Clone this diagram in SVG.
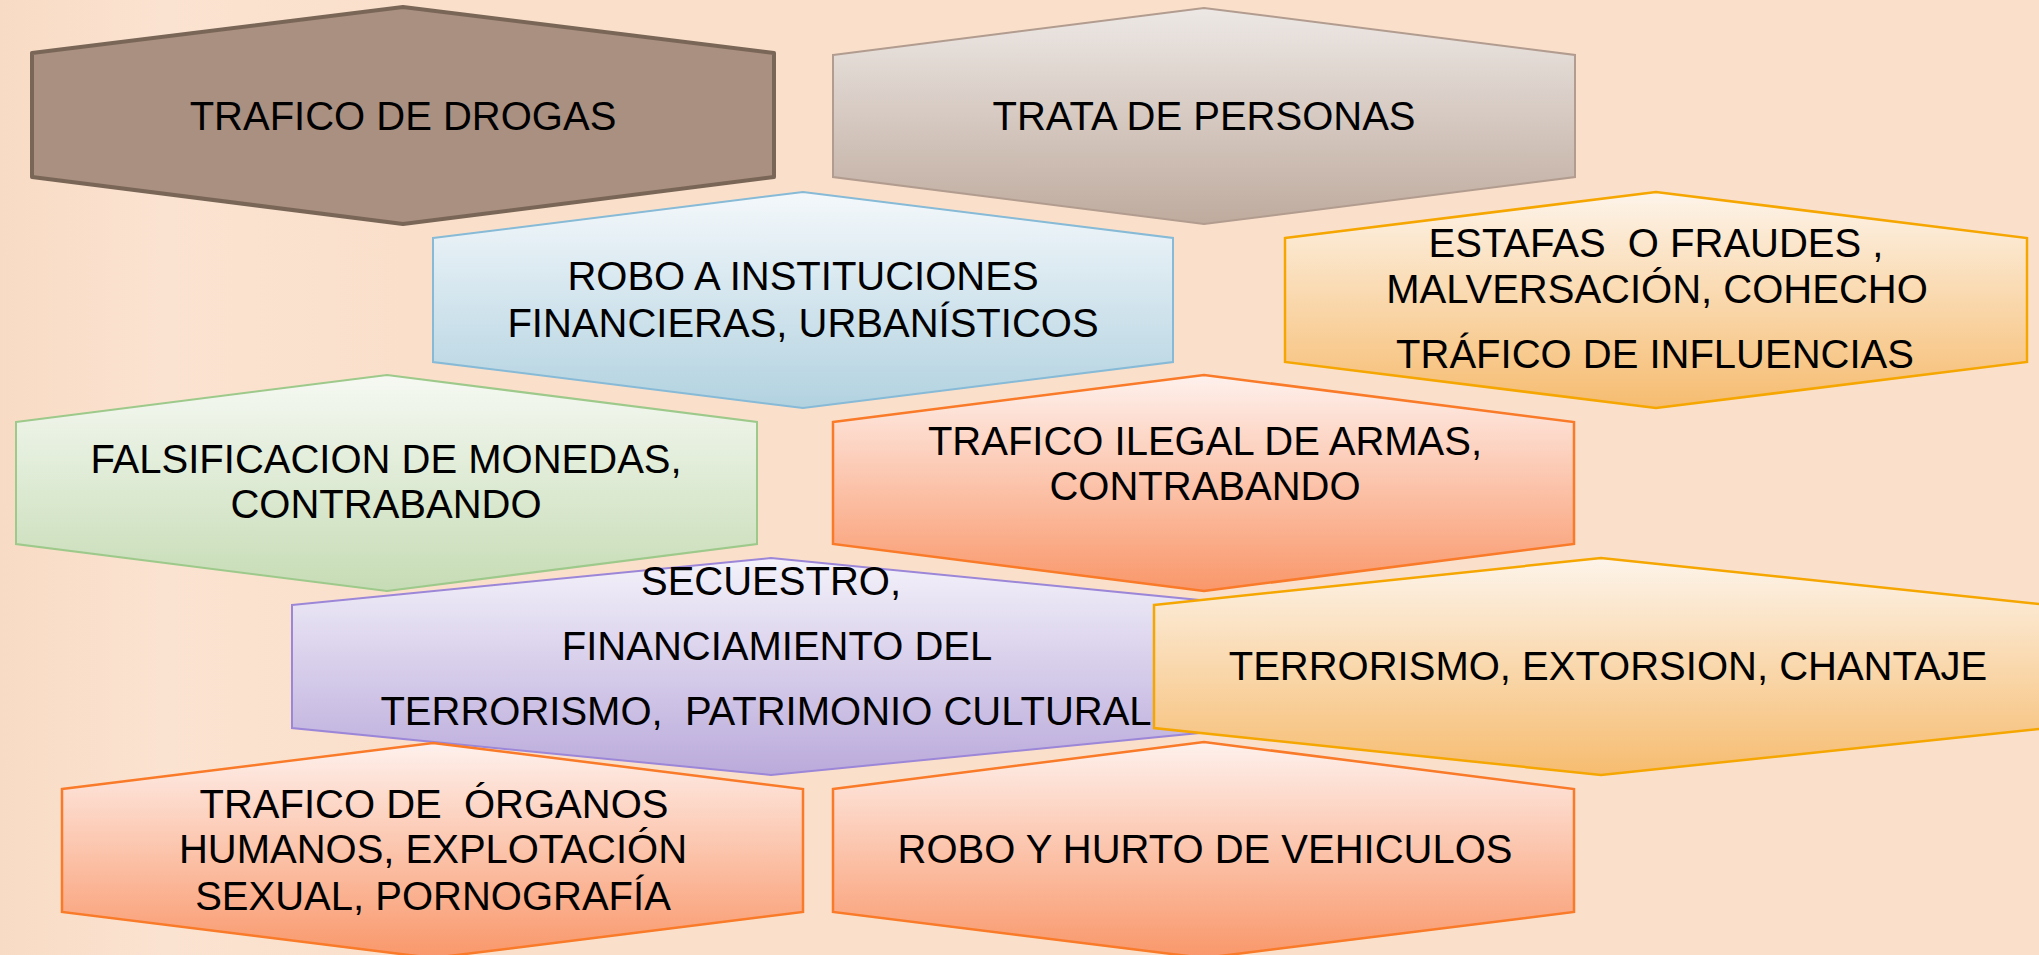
<svg xmlns="http://www.w3.org/2000/svg" width="2039" height="955" viewBox="0 0 2039 955">
  <defs>
    <linearGradient id="bg" x1="0" y1="0" x2="1" y2="0">
      <stop offset="0" stop-color="#F8DBC4"/>
      <stop offset="0.08" stop-color="#FBE3D1"/>
      <stop offset="0.2" stop-color="#FAE0CB"/>
      <stop offset="1" stop-color="#FAE0CB"/>
    </linearGradient>
    <linearGradient id="gGray" x1="0" y1="0" x2="0" y2="1">
      <stop offset="0" stop-color="#EDE8E5"/>
      <stop offset="1" stop-color="#BFAB9E"/>
    </linearGradient>
    <linearGradient id="gBlue" x1="0" y1="0" x2="0" y2="1">
      <stop offset="0" stop-color="#F4F8FB"/>
      <stop offset="1" stop-color="#B2D2E0"/>
    </linearGradient>
    <linearGradient id="gGold" x1="0" y1="0" x2="0" y2="1">
      <stop offset="0" stop-color="#FDF4EA"/>
      <stop offset="1" stop-color="#F6BC70"/>
    </linearGradient>
    <linearGradient id="gGreen" x1="0" y1="0" x2="0" y2="1">
      <stop offset="0" stop-color="#F6F9F3"/>
      <stop offset="1" stop-color="#C6DCB5"/>
    </linearGradient>
    <linearGradient id="gCoral" x1="0" y1="0" x2="0" y2="1">
      <stop offset="0" stop-color="#FEF1ED"/>
      <stop offset="1" stop-color="#F9976A"/>
    </linearGradient>
    <linearGradient id="gPurple" x1="0" y1="0" x2="0" y2="1">
      <stop offset="0" stop-color="#F4F2FA"/>
      <stop offset="1" stop-color="#BAAADB"/>
    </linearGradient>
  </defs>
  <style>
    .t { font-family: "Liberation Sans", Arial, sans-serif; font-size: 40px; fill: #000; text-anchor: middle; }
    .brown { fill: #AA9080; stroke: #7A6657; stroke-width: 4; stroke-linejoin: round; }
    .gray { fill: url(#gGray); stroke: #B29C8F; stroke-width: 2; }
    .blue { fill: url(#gBlue); stroke: #86BAD6; stroke-width: 2; }
    .gold { fill: url(#gGold); stroke: #F5A600; stroke-width: 2.5; }
    .green { fill: url(#gGreen); stroke: #9DC98A; stroke-width: 2; }
    .coral { fill: url(#gCoral); stroke: #F97A28; stroke-width: 2.5; }
    .purple { fill: url(#gPurple); stroke: #9C86D8; stroke-width: 2; }
  </style>
  <rect x="0" y="0" width="2039" height="955" fill="url(#bg)"/>

  <g id="node-trafico-drogas">
    <path class="brown" d="M32,53 L403,7 L774,53 L774,177 L403,224 L32,177 Z"/>
    <text class="t" x="403" y="130">TRAFICO DE DROGAS</text>
  </g>

  <g id="node-trata-personas">
    <path class="gray" d="M833,55 L1204,8 L1575,55 L1575,177 L1204,224 L833,177 Z"/>
    <text class="t" x="1204" y="130">TRATA DE PERSONAS</text>
  </g>

  <g id="node-robo-instituciones">
    <path class="blue" d="M433,238 L803,192 L1173,238 L1173,362 L803,408 L433,362 Z"/>
    <text class="t" x="803" y="290">ROBO A INSTITUCIONES</text>
    <text class="t" x="803" y="337">FINANCIERAS, URBANÍSTICOS</text>
  </g>

  <g id="node-estafas">
    <path class="gold" d="M1285,238 L1656,192 L2027,238 L2027,362 L1656,408 L1285,362 Z"/>
    <text class="t" x="1656" y="257" xml:space="preserve">ESTAFAS  O FRAUDES ,</text>
    <text class="t" x="1657" y="303">MALVERSACIÓN, COHECHO</text>
    <text class="t" x="1655" y="368">TRÁFICO DE INFLUENCIAS</text>
  </g>

  <g id="node-falsificacion">
    <path class="green" d="M16,422 L387,375 L757,422 L757,544 L387,591 L16,544 Z"/>
    <text class="t" x="386" y="473">FALSIFICACION DE MONEDAS,</text>
    <text class="t" x="386" y="518">CONTRABANDO</text>
  </g>

  <g id="node-trafico-armas">
    <path class="coral" d="M833,422 L1204,375 L1574,422 L1574,544 L1204,591 L833,544 Z"/>
    <text class="t" x="1205" y="455">TRAFICO ILEGAL DE ARMAS,</text>
    <text class="t" x="1205" y="500">CONTRABANDO</text>
  </g>

  <g id="node-secuestro">
    <path class="purple" d="M292,605 L771,558 L1250,605 L1250,728 L771,775 L292,728 Z"/>
    <text class="t" x="771" y="595">SECUESTRO,</text>
    <text class="t" x="777" y="660">FINANCIAMIENTO DEL</text>
    <text class="t" x="766" y="725" xml:space="preserve">TERRORISMO,  PATRIMONIO CULTURAL</text>
  </g>

  <g id="node-terrorismo">
    <path class="gold" d="M1154,605 L1601,558 L2048,605 L2048,728 L1601,775 L1154,728 Z"/>
    <text class="t" x="1608" y="680">TERRORISMO, EXTORSION, CHANTAJE</text>
  </g>

  <g id="node-organos">
    <path class="coral" d="M62,789 L433,743 L803,789 L803,912 L433,958 L62,912 Z"/>
    <text class="t" x="434" y="818" xml:space="preserve">TRAFICO DE  ÓRGANOS</text>
    <text class="t" x="433" y="863">HUMANOS, EXPLOTACIÓN</text>
    <text class="t" x="433" y="910">SEXUAL, PORNOGRAFÍA</text>
  </g>

  <g id="node-robo-vehiculos">
    <path class="coral" d="M833,789 L1204,742 L1574,789 L1574,912 L1204,958 L833,912 Z"/>
    <text class="t" x="1205" y="863">ROBO Y HURTO DE VEHICULOS</text>
  </g>

  <g id="connectors"></g>
</svg>
